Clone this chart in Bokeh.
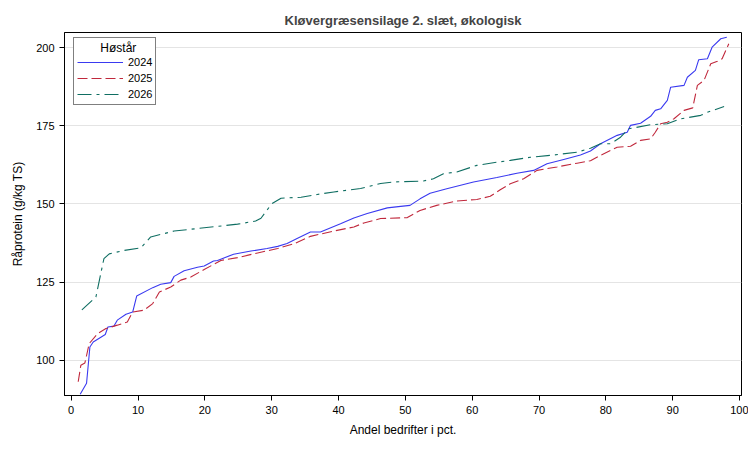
from bokeh.plotting import figure
from bokeh.models import Range1d, FixedTicker, Legend
from bokeh.embed import file_html
from bokeh.resources import INLINE

x2024 = [1.35, 2.3, 2.8, 3.3, 5.1, 5.5, 6.4, 6.9, 8.2, 9.2, 9.8, 12.2, 13.4, 14.9, 15.4, 16.9,
         18.9, 19.9, 21.3, 21.9, 24.3, 26.9, 29.3, 30.9, 32.3, 33.8, 35.8, 37.3, 40.3, 42.3,
         44.3, 47.3, 49.3, 50.7, 52.2, 53.7, 56.2, 60.2, 63.7, 66.7, 69.2, 71.2, 73.7, 76.2,
         77.7, 79.2, 81.7, 83.2, 83.7, 85.2, 86.7, 87.4, 88.2, 89.2, 89.7, 91.7, 92.2, 93.4,
         93.9, 95.2, 95.9, 97.2, 98.1]
y2024 = [89.1, 92.6, 104.2, 105.8, 108.2, 110.6, 110.9, 112.8, 114.7, 115.4, 120.5, 123.2, 124.3,
         124.8, 126.8, 128.6, 129.7, 130.1, 131.7, 131.9, 133.9, 134.9, 135.7, 136.4, 137.3,
         138.9, 141.0, 141.0, 143.6, 145.5, 146.9, 148.7, 149.2, 149.5, 151.6, 153.4, 154.8,
         157.0, 158.4, 159.8, 160.7, 162.8, 164.2, 165.6, 166.9, 169.2, 171.9, 172.9, 175.1,
         175.8, 178.0, 179.9, 180.4, 183.1, 187.3, 187.9, 190.5, 192.7, 196.1, 196.4, 200.1,
         202.8, 203.3]

x2025 = [1.05, 1.45, 2.05, 2.7, 3.95, 5.2, 6.9, 8.4, 9.2, 10.9, 12.2, 13.2, 14.9, 16.4, 17.9,
         19.9, 22.4, 24.9, 27.9, 30.9, 33.4, 35.8, 39.3, 42.3, 43.8, 46.3, 50.3, 52.2, 54.7,
         57.7, 60.7, 62.7, 64.2, 65.7, 67.7, 69.7, 72.7, 75.7, 77.7, 79.2, 81.7, 83.7, 85.2,
         86.7, 87.4, 88.2, 89.2, 90.2, 91.7, 93.0, 93.7, 94.7, 95.7, 96.7, 97.4, 98.4]
y2025 = [93.1, 98.4, 99.1, 105.3, 108.5, 110.1, 111.2, 112.2, 115.4, 116.0, 118.1, 121.8, 123.4,
         125.6, 126.6, 129.0, 131.9, 132.8, 134.3, 135.7, 137.3, 139.6, 141.3, 142.6, 143.9,
         145.3, 145.6, 147.9, 149.5, 150.9, 151.4, 152.4, 154.5, 156.4, 158.0, 160.7, 161.8,
         163.0, 163.8, 165.5, 168.1, 168.4, 170.3, 170.8, 172.9, 175.6, 176.1, 177.2, 179.9,
         180.7, 187.9, 189.5, 194.8, 195.6, 196.4, 201.2]

x2026 = [1.6, 3.7, 4.9, 5.7, 7.9, 10.4, 11.9, 15.4, 18.9, 21.9, 24.9, 27.6, 28.4, 30.0, 31.4,
         34.4, 36.8, 39.3, 43.3, 46.3, 48.3, 52.7, 54.2, 55.7, 57.7, 60.7, 62.7, 65.7, 68.7,
         71.7, 75.7, 77.7, 79.2, 80.7, 82.2, 83.4, 86.7, 89.2, 91.2, 94.2, 95.2, 97.7]
y2026 = [116.1, 120.2, 132.5, 134.0, 135.1, 135.9, 139.4, 141.3, 142.1, 142.8, 143.5, 144.5,
         145.4, 150.0, 151.8, 152.1, 153.0, 153.8, 154.9, 156.5, 157.0, 157.3, 158.0, 159.6,
         160.2, 162.3, 163.0, 163.9, 164.9, 165.5, 166.5, 167.8, 169.2, 169.2, 171.3, 174.0,
         175.3, 175.6, 177.2, 178.3, 179.3, 181.1]

x_ticks = [0, 10, 20, 30, 40, 50, 60, 70, 80, 90, 100]
y_ticks = [100, 125, 150, 175, 200]
legend_title = "Høstår"

FONT = "Liberation Sans"

p = figure(width=748, height=446, output_backend="svg", toolbar_location=None,
           x_range=Range1d(-1, 100.3), y_range=Range1d(88.7, 204.8),
           min_border_left=64, min_border_right=7, min_border_top=32, min_border_bottom=51)

p.title.text = "Kløvergræsensilage 2. slæt, økologisk"
p.title.align = "center"
p.title.text_font = FONT
p.title.text_font_size = "13px"
p.title.text_font_style = "bold"

p.outline_line_color = "black"
p.outline_line_width = 1
p.background_fill_color = "white"

p.xgrid.visible = False
p.ygrid.grid_line_color = "#e4e4e4"
p.ygrid.grid_line_width = 1

p.xaxis.ticker = FixedTicker(ticks=x_ticks)
p.yaxis.ticker = FixedTicker(ticks=y_ticks)
for ax in (p.xaxis[0], p.yaxis[0]):
    ax.major_label_text_font = FONT
    ax.major_label_text_font_size = "11px"
    ax.major_label_text_color = "black"
    ax.axis_label_text_font = FONT
    ax.axis_label_text_font_size = "12px"
    ax.axis_label_text_font_style = "normal"
    ax.axis_label_text_color = "black"
    ax.minor_tick_line_color = None
    ax.major_tick_in = 0
    ax.major_tick_out = 5
    ax.axis_line_color = "black"
    ax.major_tick_line_color = "black"
p.xaxis.axis_label = "Andel bedrifter i pct."
p.yaxis.axis_label = "Råprotein (g/kg TS)"
p.xaxis.axis_label_standoff = 6
p.yaxis.axis_label_standoff = 8

l1 = p.line(x2024, y2024, line_color="#3a3af0", line_width=1.1)
l2 = p.line(x2025, y2025, line_color="#c0283c", line_width=1.1, line_dash="10 4")
l3 = p.line(x2026, y2026, line_color="#0f6e62", line_width=1.1, line_dash="14 5 3 5")

legend = Legend(items=[("2024", [l1]), ("2025", [l2]), ("2026", [l3])],
                location=(9, 290), title="\u00a0" * 7 + legend_title)
legend.title_text_font = FONT
legend.title_text_font_size = "12px"
legend.title_text_font_style = "normal"
legend.title_text_color = "black"
legend.label_text_font = FONT
legend.label_text_font_size = "11px"
legend.label_text_color = "black"
legend.border_line_color = "black"
legend.border_line_width = 1
legend.background_fill_alpha = 1.0
legend.glyph_width = 46
legend.glyph_height = 14
legend.label_height = 14
legend.spacing = 2
legend.padding = 3
legend.margin = 0
legend.label_standoff = 5
legend.title_standoff = 0
p.add_layout(legend)

open("out.html", "w").write(file_html(p, INLINE))
